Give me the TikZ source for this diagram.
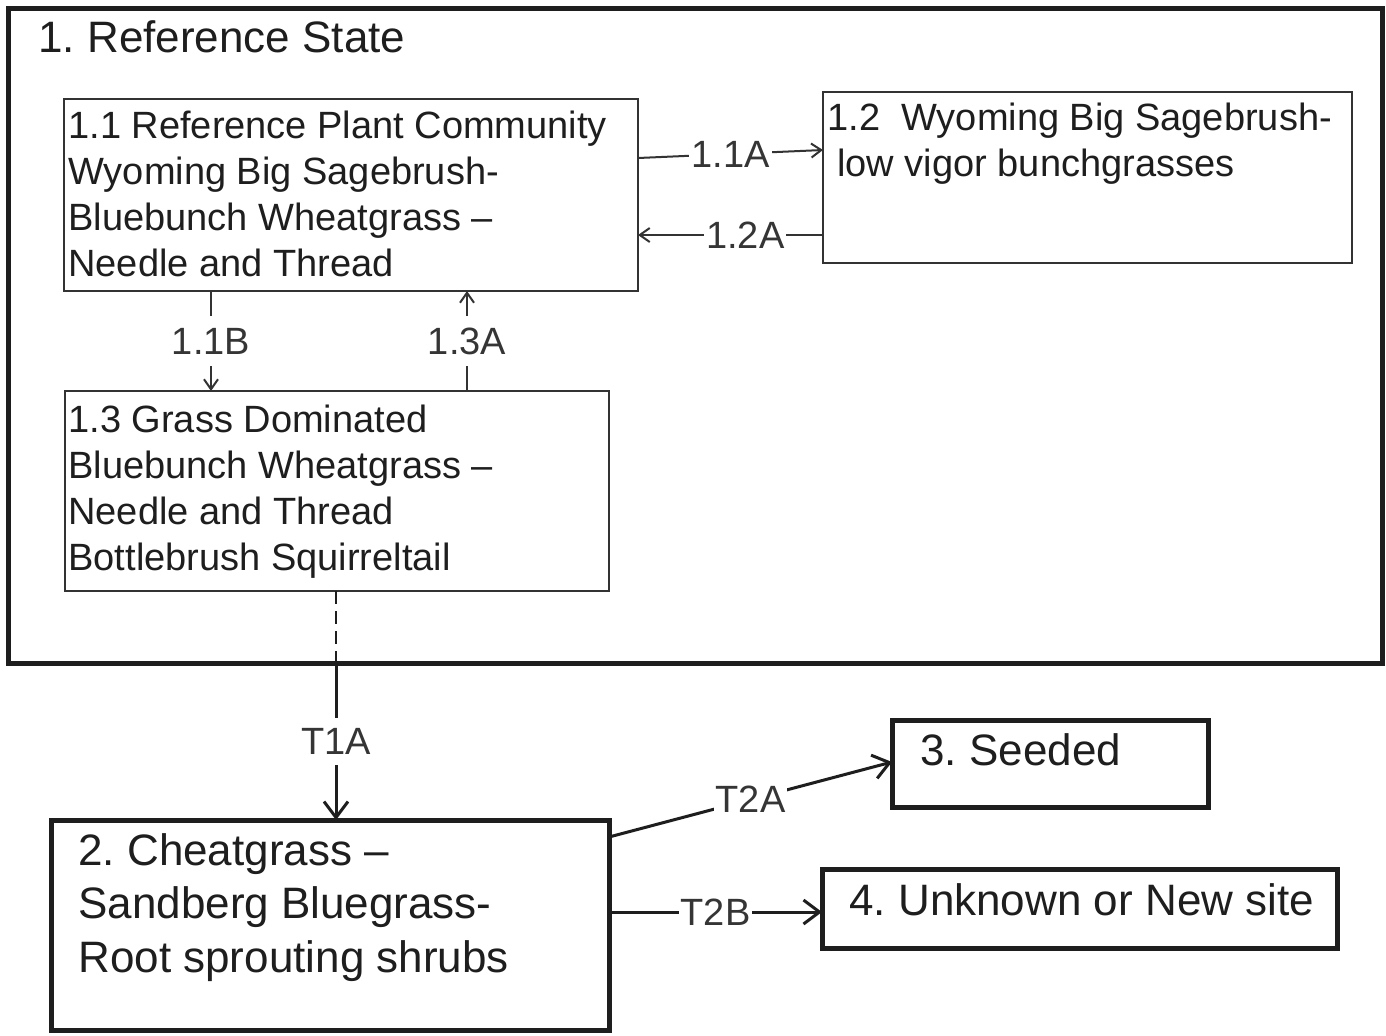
\documentclass[tikz,border=0pt]{standalone}
\usepackage{fontspec}
\setmainfont{Liberation Sans}
\usetikzlibrary{arrows.meta,calc}
\definecolor{ink}{HTML}{1E1E1E}
\definecolor{thinline}{HTML}{333333}
\frenchspacing
\begin{document}
\begin{tikzpicture}[x=0.5pt,y=-0.5pt,
  boxthin/.style={draw=thinline,line width=1.1pt,inner sep=0pt,outer sep=0pt,rectangle},
  boxthick/.style={draw=ink,line width=2.5pt,inner sep=0pt,outer sep=0pt,rectangle},
  txt/.style={anchor=north west,inner sep=0pt,align=left,text=ink,font=\fontsize{19}{23}\selectfont},
  bigtxt/.style={anchor=north west,inner sep=0pt,align=left,text=ink,font=\fontsize{22}{26.75}\selectfont},
  lab/.style={fill=white,text=ink!90,font=\fontsize{19}{23}\selectfont,inner xsep=1pt,inner ysep=2pt},
  vlab/.style={fill=white,text=ink!90,font=\fontsize{19}{23}\selectfont,inner xsep=2pt,inner ysep=6pt},
  thinarrow/.style={draw=thinline,line width=1pt,-{Straight Barb[length=5pt,width=7pt]}},
  thickarrow/.style={draw=ink,line width=1.5pt,-{Straight Barb[length=8pt,width=12pt]}},
]
\useasboundingbox (0,0) rectangle (1386,1035);
\fill[white] (0,0) rectangle (1386,1035);

% outer reference state
\node[boxthick,minimum width=687pt,minimum height=327.5pt] (ref) at (695,335.5) {};
\node[bigtxt] (reftitle) at (38,20) {1. Reference State};

% community phases
\node[boxthin,minimum width=287pt,minimum height=96pt] (b11) at (351,195) {};
\node[txt] (t11) at (68,111) {1.1 Reference Plant Community\\Wyoming Big Sagebrush-\\Bluebunch Wheatgrass –\\Needle and Thread};

\node[boxthin,minimum width=264.5pt,minimum height=85.5pt] (b12) at (1087.5,177.5) {};
\node[txt] (t12) at (827,103) {1.2~ Wyoming Big Sagebrush-\\\hspace*{5pt}low vigor bunchgrasses};

\node[boxthin,minimum width=272pt,minimum height=100pt] (b13) at (337,491) {};
\node[txt] (t13) at (68,405) {1.3 Grass Dominated\\Bluebunch Wheatgrass –\\Needle and Thread\\Bottlebrush Squirreltail};

% other states
\node[boxthick,minimum width=279pt,minimum height=105pt] (b2) at (330,925) {};
\node[bigtxt] (t2) at (78,833) {2. Cheatgrass –\\Sandberg Bluegrass-\\Root sprouting shrubs};

\node[boxthick,minimum width=158pt,minimum height=43.5pt] (b3) at (1050,763.5) {};
\node[bigtxt] (t3) at (920,733) {3. Seeded};

\node[boxthick,minimum width=257.5pt,minimum height=39.5pt] (b4) at (1079.5,908.5) {};
\node[bigtxt] (t4) at (849,883) {4. Unknown or New site};

% pathways
\draw[thinarrow] ($(b11.north east)+(0,59)$) -- node[lab]{1.1A} ($(b12.north west)+(0,58)$);
\draw[thinarrow] ($(b12.north west)+(0,143)$) -- node[lab,pos=0.42]{1.2A} ($(b11.north east)+(0,136)$);
\draw[thinarrow] ($(b11.south west)+(147,0)$) -- node[vlab]{1.1B} ($(b13.north west)+(146,0)$);
\draw[thinarrow] ($(b13.north west)+(402,0)$) -- node[vlab]{1.3A} ($(b11.south west)+(403,0)$);

% transitions
\coordinate (tx) at ($(b13.south west)+(271,0)$);
\coordinate (tcross) at (tx |- ref.south);
\draw[draw=ink,line width=1pt,dash pattern=on 6.5pt off 3.5pt] (tx) -- (tcross);
\draw[thickarrow] (tcross) -- node[vlab,inner ysep=5pt]{T1A} ($(b2.north west)+(285,0)$);
\draw[thickarrow] ($(b2.north east)+(0,17)$) -- node[lab]{T2A} ($(b3.north west)+(0,42)$);
\draw[thickarrow] ($(b2.north east)+(0,92)$) -- node[lab]{T2B} ($(b4.north west)+(0,43)$);
\end{tikzpicture}
\end{document}
